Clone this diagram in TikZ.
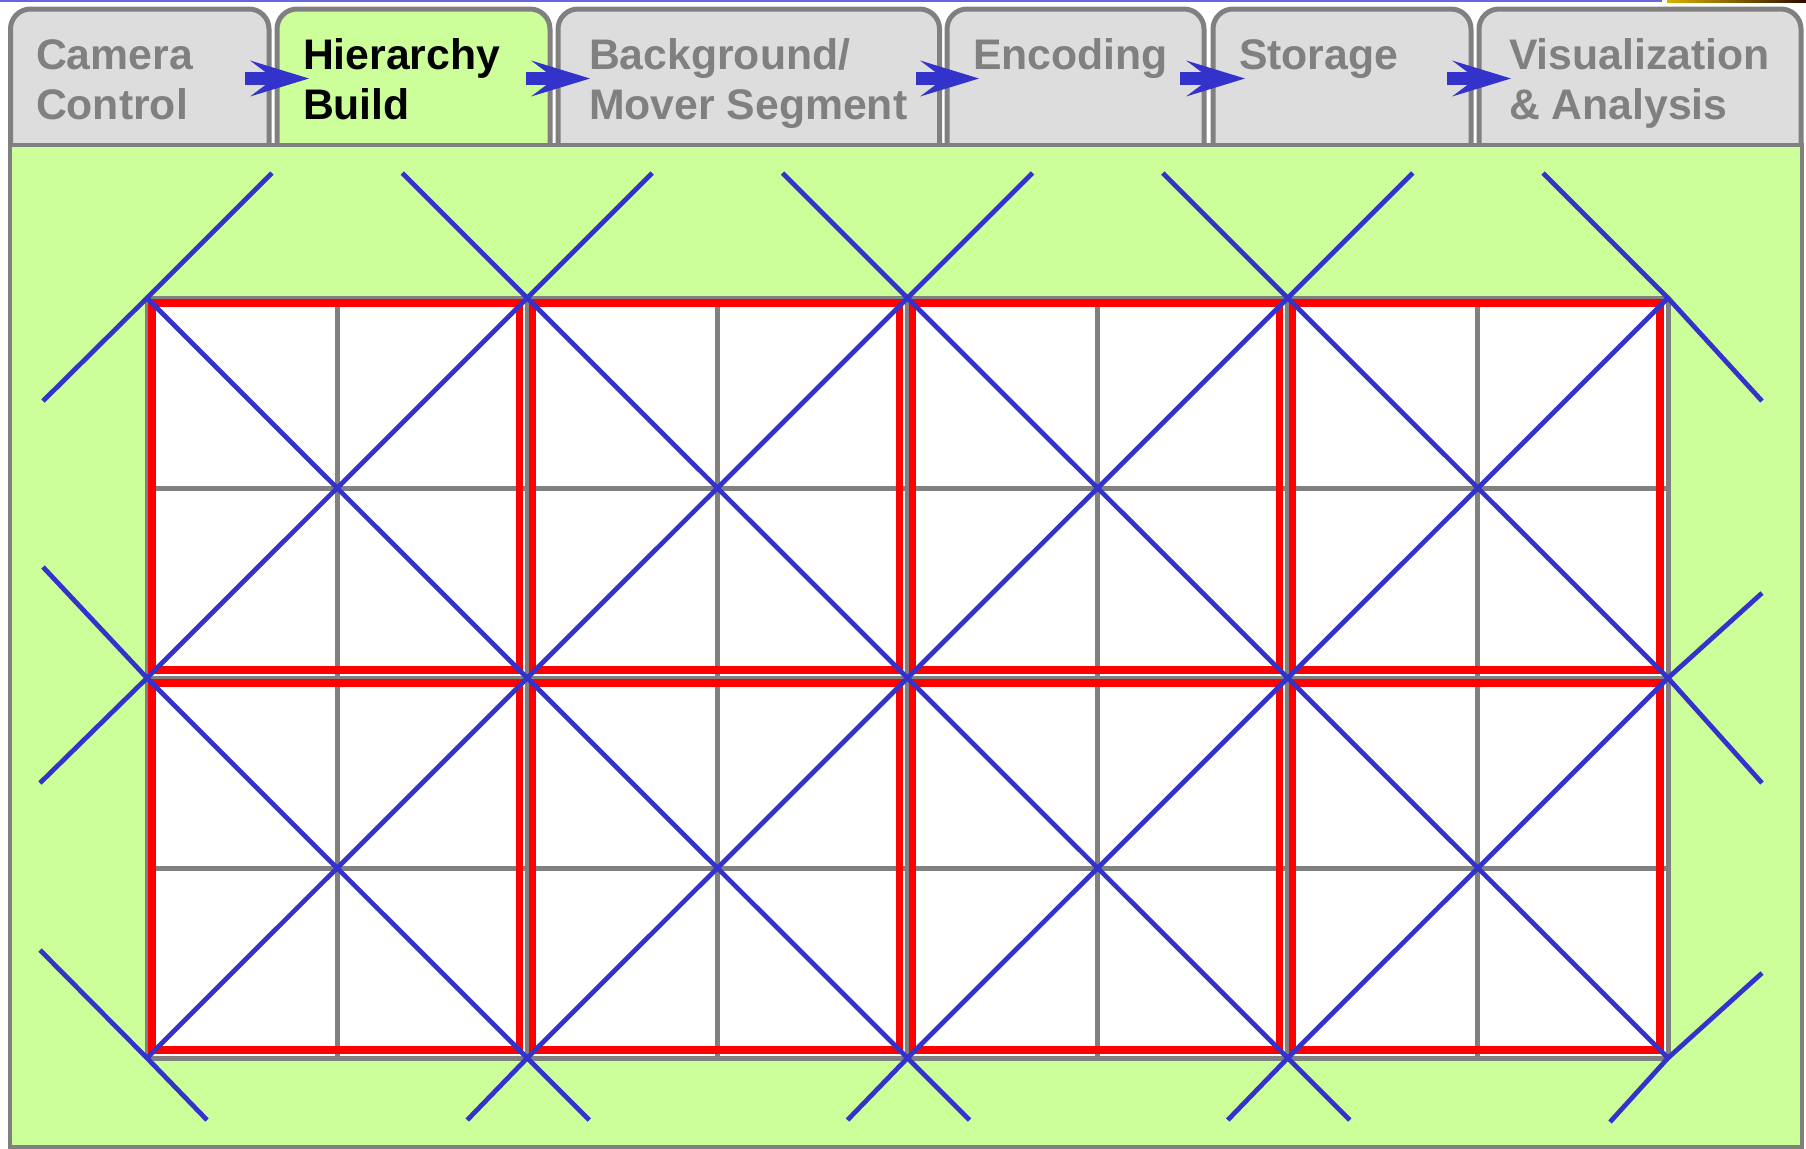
\documentclass[tikz,border=0pt]{standalone}
\usepackage{fontspec}
\setmainfont{Liberation Sans}
\usetikzlibrary{arrows.meta}
\definecolor{tabgray}{HTML}{DDDDDD}
\definecolor{edgegray}{HTML}{808080}
\definecolor{panelgreen}{HTML}{CCFF99}
\definecolor{flowblue}{HTML}{3333CC}
\definecolor{gridred}{HTML}{FF0000}
\definecolor{topblue}{HTML}{6666DD}
\definecolor{goldA}{HTML}{D8B400}
\definecolor{goldB}{HTML}{2A0A00}
\begin{document}
\begin{tikzpicture}[x=0.4pt,y=-0.4pt,
  tab/.style={draw=edgegray, line width=2pt, fill=tabgray, rounded corners=8pt,
    outer sep=0pt, inner sep=0pt, anchor=north west, minimum height=64.4pt},
  tabon/.style={tab, fill=panelgreen},
  lab/.style={anchor=base west, inner sep=0pt, outer sep=0pt, text=edgegray,
    font=\fontsize{17.1pt}{20pt}\selectfont\bfseries},
  labon/.style={lab, text=black},
  flow/.style={draw=flowblue, line width=5.2pt,
    -{Stealth[length=23.6pt,width=14.4pt,inset=9.6pt,line width=0pt]}},
  panel/.style={draw=edgegray, line width=1.6pt, fill=panelgreen},
  gridline/.style={draw=edgegray, line width=2pt},
  redsq/.style={draw=gridred, line width=2.9pt},
  diag/.style={draw=flowblue, line width=1.9pt}
]
\useasboundingbox (0,0) rectangle (1806,1148);

% thin strips at the very top edge
\fill[topblue] (0,0) rectangle (1662,2);
\shade[left color=goldA, right color=goldB] (1667,0) rectangle (1806,2.5);

% tabs
\node[tab, minimum width=103.4pt] (t1) at (10.5,9) {};
\node[tabon, minimum width=109.2pt] (t2) at (277,9) {};
\node[tab, minimum width=152.6pt] (t3) at (558,9) {};
\node[tab, minimum width=102.8pt] (t4) at (947,9) {};
\node[tab, minimum width=103.2pt] (t5) at (1213,9) {};
\node[tab, minimum width=128.8pt] (t6) at (1479,9) {};

% panel
\draw[panel] (10,145) rectangle (1802,1147);

% tab labels
\node[lab] (l1) at (36,69) {\begin{tabular}[t]{@{}l@{}}Camera\\Control\end{tabular}};
\node[labon] (l2) at (303,69) {\begin{tabular}[t]{@{}l@{}}Hierarchy\\Build\end{tabular}};
\node[lab] (l3) at (589,69) {\begin{tabular}[t]{@{}l@{}}Background/\\Mover Segment\end{tabular}};
\node[lab] (l4) at (973,69) {Encoding};
\node[lab] (l5) at (1239,69) {Storage};
\node[lab] (l6) at (1509,69) {\begin{tabular}[t]{@{}l@{}}Visualization\\\& Analysis\end{tabular}};

% flow arrows between tabs
\draw[flow] ([xshift=-9.6pt,yshift=4.4pt]t1.east) -- ([xshift=12.8pt,yshift=4.4pt]t2.west);
\draw[flow] ([xshift=-9.6pt,yshift=4.4pt]t2.east) -- ([xshift=12.8pt,yshift=4.4pt]t3.west);
\draw[flow] ([xshift=-9.6pt,yshift=4.4pt]t3.east) -- ([xshift=12.8pt,yshift=4.4pt]t4.west);
\draw[flow] ([xshift=-9.6pt,yshift=4.4pt]t4.east) -- ([xshift=12.8pt,yshift=4.4pt]t5.west);
\draw[flow] ([xshift=-9.6pt,yshift=4.4pt]t5.east) -- ([xshift=12.8pt,yshift=4.4pt]t6.west);

% grid
\fill[white] (147,298) rectangle (1668,1058);
\foreach \k in {0,...,8}
  \draw[gridline] ({147+190.125*\k},298) -- ({147+190.125*\k},1058);
\foreach \k in {0,...,4}
  \draw[gridline] (147,{298+190*\k}) -- (1668,{298+190*\k});

% red squares
\foreach \i in {0,...,3}
  \foreach \j in {0,1}
    \draw[redsq] ({147+380.25*\i+5},{298+380*\j+5}) rectangle ({147+380.25*(\i+1)-8},{298+380*(\j+1)-8});

% blue diagonals inside
\foreach \i in {0,...,3}
  \foreach \j in {0,1} {
    \draw[diag] ({147+380.25*\i},{298+380*\j}) -- ({147+380.25*(\i+1)},{298+380*(\j+1)});
    \draw[diag] ({147+380.25*\i},{298+380*(\j+1)}) -- ({147+380.25*(\i+1)},{298+380*\j});
  }

% blue diagonals outside
\draw[diag] (43,401) -- (147,298) -- (272,173);
\foreach \k in {1,2,3}
  \draw[diag] ({147+380.25*\k-125},173) -- ({147+380.25*\k},298) -- ({147+380.25*\k+125},173);
\draw[diag] (1543,173) -- (1668,298) -- (1762,401);
\draw[diag] (43,567) -- (147,678) -- (40,783);
\draw[diag] (1762,593) -- (1668,678) -- (1762,783);
\draw[diag] (40,950) -- (147,1058) -- (207,1120);
\foreach \k in {1,2,3}
  \draw[diag] ({147+380.25*\k-60},1120) -- ({147+380.25*\k},1058) -- ({147+380.25*\k+62},1120);
\draw[diag] (1610,1122) -- (1668,1058) -- (1762,973);
\end{tikzpicture}
\end{document}
